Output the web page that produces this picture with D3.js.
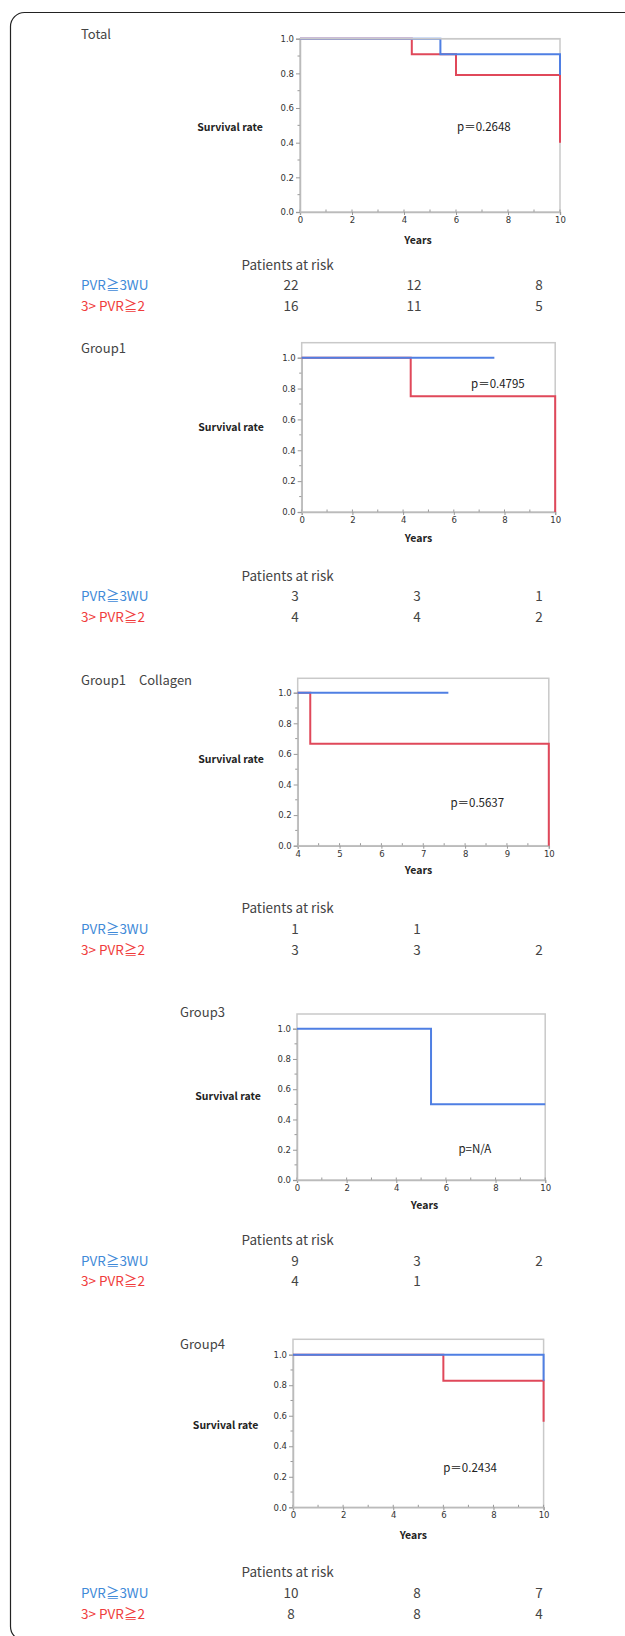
<!DOCTYPE html>
<html>
<head>
<meta charset="utf-8">
<script src="https://cdn.jsdelivr.net/npm/d3@7"></script>
<style>
  body { margin: 0; background: #fff; }
  svg { display: block; }
</style>
</head>
<body>
<svg id="chart" width="625" height="1636"></svg>
<script>
// panel titles and p values
var panelTitles = ["Total", "Group1", "Group1\u3000Collagen", "Group3", "Group4"];
var pLabels = ["p\uFF1D0.2648", "p\uFF1D0.4795", "p\uFF1D0.5637", "p=N/A", "p\uFF1D0.2434"];
var seriesNames = ["PVR\u22673WU", "3> PVR\u22672"];

// x domains (years)
var xDomains = [[0, 10], [0, 10], [4, 10], [0, 10], [0, 10]];

// survival steps: [year, survival] (null = no curve)
var blueTotal = [[0, 1], [5.4, 0.91], [10, 0.79]];
var redTotal = [[0, 1], [4.3, 0.91], [6, 0.79], [10, 0.4]];
var blueGroup1 = [[0, 1], [7.6, 1]];
var redGroup1 = [[0, 1], [4.3, 0.75], [10, 0]];
var blueCollagen = [[4, 1], [7.6, 1]];
var redCollagen = [[4, 1], [4.3, 0.667], [10, 0]];
var blueGroup3 = [[0, 1], [5.4, 0.5], [10, 0.5]];
var redGroup3 = null;
var blueGroup4 = [[0, 1], [10, 0.83]];
var redGroup4 = [[0, 1], [6, 0.83], [10, 0.56]];

var blueCurves = [blueTotal, blueGroup1, blueCollagen, blueGroup3, blueGroup4];
var redCurves = [redTotal, redGroup1, redCollagen, redGroup3, redGroup4];

// patients at risk
var riskBlue = [["22", "12", "8"], ["3", "3", "1"], ["1", "1", ""], ["9", "3", "2"], ["10", "8", "7"]];
var riskRed = [["16", "11", "5"], ["4", "4", "2"], ["3", "3", "2"], ["4", "1", ""], ["8", "8", "4"]];

// layout of each panel (pixels)
var layout = [
    { tx: 81, ty: 34, left: 300, right: 560, y1: 38.7, y0: 212, top: 38.7, sx: 230, sy: 127, px: 457, py: 127, yx: 418, yy: 240, hy: 265, r1: 285.5, r2: 306.5, cols: [291, 414, 539] },
    { tx: 81, ty: 348, left: 301.7, right: 555.2, y1: 357.7, y0: 512, top: 342.7, sx: 231, sy: 427.7, px: 471, py: 384, yx: 418.5, yy: 538, hy: 576, r1: 596.7, r2: 617.3, cols: [295, 417, 539] },
    { tx: 81, ty: 680, left: 297.7, right: 548.8, y1: 692.7, y0: 845.7, top: 678.3, sx: 231, sy: 759.3, px: 450.4, py: 802.7, yx: 418.5, yy: 870, hy: 908.3, r1: 929, r2: 950, cols: [295, 417, 539] },
    { tx: 180, ty: 1012.3, left: 297, right: 545.2, y1: 1028.7, y0: 1180, top: 1014, sx: 228, sy: 1096, px: 458.4, py: 1149.3, yx: 424.5, yy: 1205.7, hy: 1240, r1: 1261, r2: 1281.7, cols: [295, 417, 539] },
    { tx: 180, ty: 1344.3, left: 293, right: 543.6, y1: 1354.7, y0: 1507.3, top: 1339.3, sx: 225.6, sy: 1425, px: 443.2, py: 1468.3, yx: 413.3, yy: 1535.3, hy: 1572.7, r1: 1593.3, r2: 1614, cols: [291, 417, 539] }
];

var blueLine = "#4f7fe3", redLine = "#e0485a";
var blueText = "#3f8ad8", redText = "#f03c3c";
var jpFont = "'Noto Sans CJK JP', 'Noto Sans', sans-serif";
var uiFont = "'DejaVu Sans', 'Noto Sans', sans-serif";

var svg = d3.select("#chart");

// outer rounded frame (right edge off page)
svg.append("rect")
    .attr("x", 10.5).attr("y", 12.5)
    .attr("width", 660).attr("height", 1628)
    .attr("rx", 14).attr("ry", 14)
    .style("fill", "none")
    .style("stroke", "#222")
    .style("stroke-width", 1.2);

panelTitles.forEach(function (title, i) {
    var L = layout[i];
    var g = svg.append("g");

    var x = d3.scaleLinear().domain(xDomains[i]).range([L.left, L.right]);
    var y = d3.scaleLinear().domain([0, 1]).range([L.y0, L.y1]);

    // title
    g.append("text")
        .attr("x", L.tx).attr("y", L.ty)
        .attr("dy", "0.35em")
        .style("font-family", jpFont)
        .style("font-size", "13px")
        .style("fill", "#444")
        .text(title);

    // plot frame
    g.append("rect")
        .attr("x", L.left).attr("y", L.top)
        .attr("width", L.right - L.left).attr("height", L.y0 - L.top)
        .style("fill", "none")
        .style("stroke", "#c9c9c9")
        .style("stroke-width", 1.5);

    // minor ticks
    var span = xDomains[i][1] - xDomains[i][0];
    var majorStep = span > 6 ? 2 : 1;
    var minorX = d3.range(xDomains[i][0], xDomains[i][1] + 0.001, majorStep / 2);
    g.selectAll(".mx").data(minorX).enter().append("line")
        .attr("x1", function (d) { return x(d); }).attr("x2", function (d) { return x(d); })
        .attr("y1", L.y0).attr("y2", L.y0 - 2.5)
        .style("stroke", "#999").style("stroke-width", 1);
    var minorY = d3.range(0.1, 1.0, 0.2);
    g.selectAll(".my").data(minorY).enter().append("line")
        .attr("x1", L.left).attr("x2", L.left - 2.5)
        .attr("y1", function (d) { return y(d); }).attr("y2", function (d) { return y(d); })
        .style("stroke", "#999").style("stroke-width", 1);

    // axes
    var xAxis = d3.axisBottom(x)
        .tickValues(d3.range(xDomains[i][0], xDomains[i][1] + 0.001, majorStep))
        .tickFormat(d3.format("d"))
        .tickSize(3).tickPadding(2);
    var yAxis = d3.axisLeft(y)
        .tickValues([0, 0.2, 0.4, 0.6, 0.8, 1.0])
        .tickFormat(d3.format(".1f"))
        .tickSize(4).tickPadding(2);

    var gx = g.append("g").attr("transform", "translate(0," + L.y0 + ")").call(xAxis);
    var gy = g.append("g").attr("transform", "translate(" + L.left + ",0)").call(yAxis);
    [gx, gy].forEach(function (ax) {
        ax.select(".domain").style("stroke", "#bbb").style("stroke-width", 1.5);
        ax.selectAll(".tick line").style("stroke", "#999");
        ax.selectAll(".tick text")
            .style("font-family", uiFont)
            .style("font-size", "8.5px")
            .style("fill", "#333");
    });

    // survival curves
    var line = d3.line()
        .x(function (d) { return x(d[0]); })
        .y(function (d) { return y(d[1]); })
        .curve(d3.curveStepAfter);
    [[redCurves[i], redLine], [blueCurves[i], blueLine]].forEach(function (c) {
        if (!c[0]) return;
        g.append("path")
            .attr("d", line(c[0]))
            .style("fill", "none")
            .style("stroke", c[1])
            .style("stroke-width", 2);
    });

    // frame top drawn again over curves that sit on it
    if (L.top === L.y1) {
        g.append("line")
            .attr("x1", L.left).attr("x2", L.right)
            .attr("y1", L.top).attr("y2", L.top)
            .style("stroke", "#c9c9c9").style("stroke-width", 1.5);
    }

    // axis titles
    g.append("text")
        .attr("x", L.sx).attr("y", L.sy).attr("dy", "0.35em")
        .attr("text-anchor", "middle")
        .style("font-family", jpFont)
        .style("font-size", "10.5px")
        .style("font-weight", "bold")
        .style("fill", "#222")
        .text("Survival rate");
    g.append("text")
        .attr("x", L.yx).attr("y", L.yy).attr("dy", "0.35em")
        .attr("text-anchor", "middle")
        .style("font-family", jpFont)
        .style("font-size", "10.5px")
        .style("font-weight", "bold")
        .style("fill", "#222")
        .text("Years");

    // p value
    g.append("text")
        .attr("x", L.px).attr("y", L.py).attr("dy", "0.35em")
        .style("font-family", jpFont)
        .style("font-size", "11.5px")
        .style("fill", "#222")
        .text(pLabels[i]);

    // patients at risk table
    g.append("text")
        .attr("x", 241.5).attr("y", L.hy).attr("dy", "0.35em")
        .style("font-family", jpFont)
        .style("font-size", "13.5px")
        .style("fill", "#444")
        .text("Patients at risk");

    [[seriesNames[0], riskBlue[i], L.r1, blueText], [seriesNames[1], riskRed[i], L.r2, redText]].forEach(function (row) {
        g.append("text")
            .attr("x", 81).attr("y", row[2]).attr("dy", "0.35em")
            .style("font-family", jpFont)
            .style("font-size", "13.5px")
            .style("fill", row[3])
            .text(row[0]);
        g.selectAll(null).data(row[1]).enter().append("text")
            .attr("x", function (d, j) { return L.cols[j]; })
            .attr("y", row[2]).attr("dy", "0.35em")
            .attr("text-anchor", "middle")
            .style("font-family", jpFont)
            .style("font-size", "13.5px")
            .style("fill", "#444")
            .text(function (d) { return d; });
    });
});
</script>
</body>
</html>
